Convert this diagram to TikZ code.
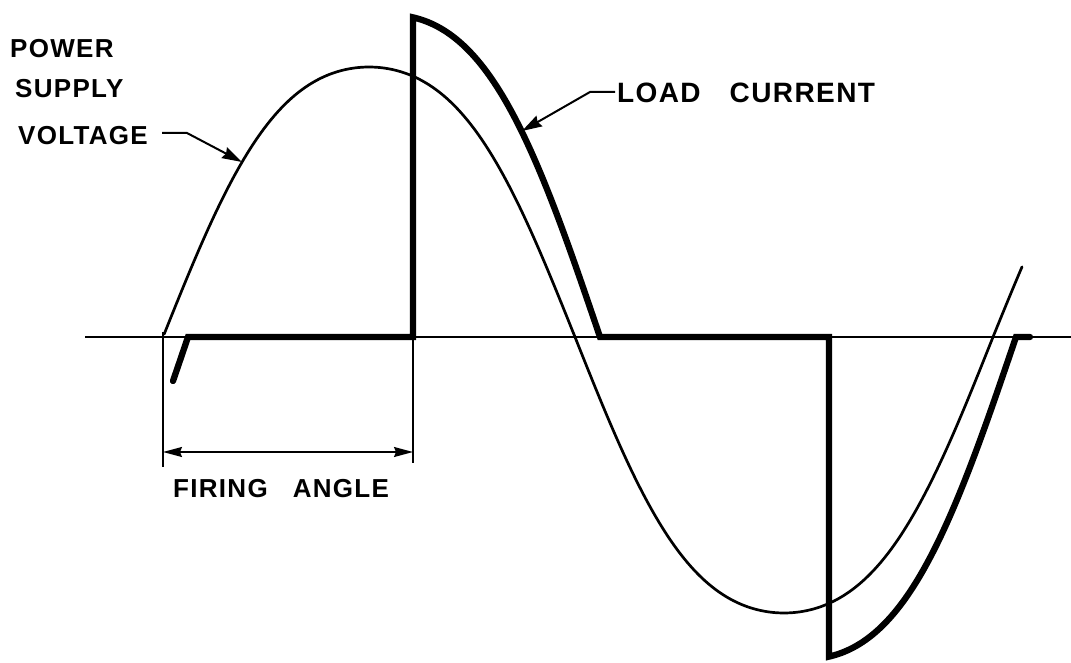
\documentclass[tikz,border=0pt]{standalone}
\usepackage{fontspec}
\setmainfont{Liberation Sans}
\newfontfamily\letterfont[LetterSpace=5]{Liberation Sans Bold}
\usetikzlibrary{arrows.meta}
\tikzset{
  lbl/.style={font=\letterfont\fontsize{26}{30}\selectfont, inner sep=0pt, anchor=base west},
  axisline/.style={line width=1.5pt},
  voltline/.style={line width=2.7pt, line cap=round, line join=round},
  currline/.style={line width=6.3pt, line join=miter, line cap=round},
  leader/.style={line width=2pt, -{Stealth[length=20pt,width=12pt,inset=2pt]}},
  dimline/.style={line width=1.5pt},
  dimarrow/.style={line width=1.5pt, {Stealth[length=19pt,width=10pt,inset=2pt]}-{Stealth[length=19pt,width=10pt,inset=2pt]}}
}
\begin{document}
\begin{tikzpicture}[x=1pt,y=-1pt]
\useasboundingbox (0,0) rectangle (1071,663);
% axis
\coordinate (ax0) at (85,337);
\coordinate (ax1) at (1071,337);
\draw[axisline] (ax0) -- (ax1);
% supply voltage (fuller sine)
\draw[voltline]
  plot[domain=0.5:180, samples=120] ({163+\x/180*412},{337-270*(sin(\x)+0.05*sin(3*\x))/0.95})
  -- plot[domain=0:180, samples=120] ({575+\x/180*418},{337+276*(sin(\x)+0.05*sin(3*\x))/0.95})
  -- plot[domain=0:12.5, samples=20] ({993+\x/180*418},{337-270*(sin(\x)+0.05*sin(3*\x))/0.95});
% load current
\draw[currline]
  plot[domain=6.5:0, samples=10] ({188-\x/180*416},{337+322*(sin(\x)+0.05*sin(3*\x))/0.95})
  -- (413,337)
  -- plot[domain=80.9:0, samples=100] ({600-\x/180*416},{337-322*(sin(\x)+0.05*sin(3*\x))/0.95})
  -- (829,337)
  -- plot[domain=80.9:0, samples=100] ({1016-\x/180*416},{337+322*(sin(\x)+0.05*sin(3*\x))/0.95})
  -- (1030,337);
% labels
\node[lbl] (power) at (10,58) {POWER};
\node[lbl] (supply) at (15,98) {SUPPLY};
\node[lbl] (voltage) at (18,145) {VOLTAGE};
\node[lbl, font=\letterfont\fontsize{28}{32}\selectfont] (load) at (617,103) {LOAD\hspace{29pt}CURRENT};
\node[lbl] (firing) at (173,497) {FIRING\hspace{25pt}ANGLE};
% leaders
\coordinate (vl0) at (162,133);
\coordinate (vl1) at (187,133);
\coordinate (vtip) at (242,162);
\draw[leader] (vl0) -- (vl1) -- (vtip);
\coordinate (cl0) at (615,92);
\coordinate (cl1) at (590,92);
\coordinate (ctip) at (522,131);
\draw[leader] (cl0) -- (cl1) -- (ctip);
% firing angle dimension
\coordinate (fa0) at (163,332);
\coordinate (fa1) at (163,467);
\coordinate (fb0) at (413,337);
\coordinate (fb1) at (413,463);
\draw[dimline] (fa0) -- (fa1);
\draw[dimline] (fb0) -- (fb1);
\coordinate (fl) at (163,452);
\coordinate (fr) at (413,452);
\draw[dimarrow] (fl) -- (fr);
\end{tikzpicture}
\end{document}
